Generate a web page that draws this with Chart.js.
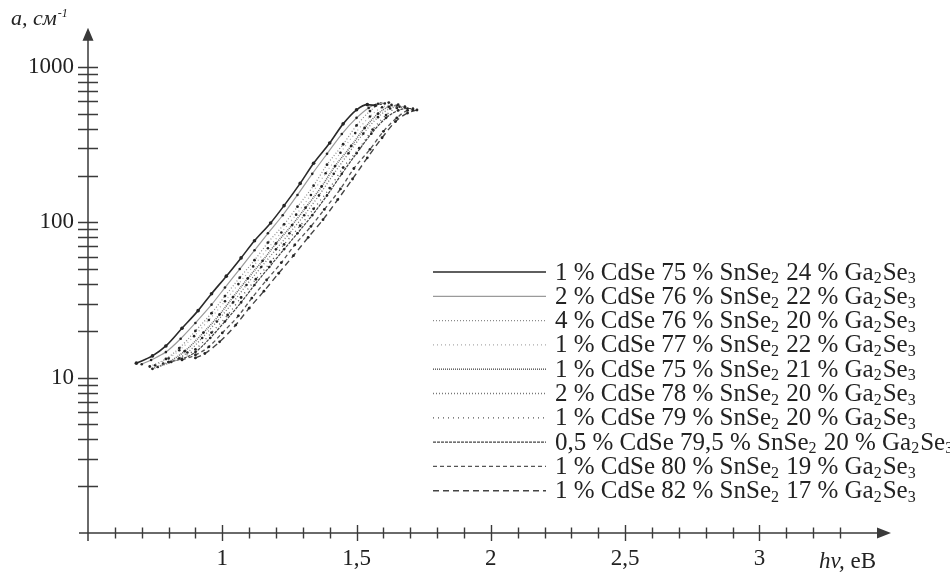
<!DOCTYPE html>
<html>
<head>
<meta charset="utf-8">
<script src="https://cdn.jsdelivr.net/npm/chart.js@4.4.1/dist/chart.umd.min.js"></script>
<style>
  html, body { margin: 0; padding: 0; background: #fff; }
  canvas { display: block; }
</style>
</head>
<body>
<canvas id="absChart" width="950" height="574"></canvas>
<script>
// составы образцов (подписи легенды)
const seriesLabels = [
  '1 % CdSe 75 % SnSe₂ 24 % Ga₂Se₃',
  '2 % CdSe 76 % SnSe₂ 22 % Ga₂Se₃',
  '4 % CdSe 76 % SnSe₂ 20 % Ga₂Se₃',
  '1 % CdSe 77 % SnSe₂ 22 % Ga₂Se₃',
  '1 % CdSe 75 % SnSe₂ 21 % Ga₂Se₃',
  '2 % CdSe 78 % SnSe₂ 20 % Ga₂Se₃',
  '1 % CdSe 79 % SnSe₂ 20 % Ga₂Se₃',
  '0,5 % CdSe 79,5 % SnSe₂ 20 % Ga₂Se₃',
  '1 % CdSe 80 % SnSe₂ 19 % Ga₂Se₃',
  '1 % CdSe 82 % SnSe₂ 17 % Ga₂Se₃'
];

// hv, eB  /  a, cm-1
const hv1 = [0.68, 0.74, 0.79, 0.85, 0.91, 0.96, 1.015, 1.07, 1.12, 1.18, 1.23, 1.29, 1.34, 1.40, 1.45, 1.50, 1.54, 1.57];
const a1  = [12.4, 13.8, 16, 20.8, 27, 34.7, 45, 59, 76, 99, 128, 178, 240, 324, 430, 530, 572, 565];
const hv2 = [0.70, 0.735, 0.79, 0.845, 0.90, 0.96, 1.01, 1.065, 1.12, 1.17, 1.225, 1.28, 1.335, 1.39, 1.445, 1.50, 1.545, 1.58, 1.605];
const a2  = [12.2, 13, 14.6, 17.8, 22.5, 29.5, 38, 50, 66, 85, 111, 150, 205, 276, 370, 470, 545, 580, 582];
const hv3 = [0.73, 0.79, 0.84, 0.90, 0.96, 1.01, 1.065, 1.12, 1.17, 1.23, 1.28, 1.34, 1.39, 1.45, 1.50, 1.55, 1.59, 1.62];
const a3  = [11.8, 13.2, 15.5, 20, 26, 33.5, 44, 57, 74, 97, 126, 172, 235, 318, 420, 520, 580, 590];
const hv4 = [0.75, 0.80, 0.84, 0.895, 0.95, 1.01, 1.06, 1.115, 1.17, 1.22, 1.275, 1.33, 1.385, 1.44, 1.495, 1.55, 1.595, 1.63, 1.655];
const a4  = [12, 13.3, 15, 18.5, 23.5, 31, 40, 52, 68, 86, 112, 150, 207, 280, 375, 480, 550, 570, 572];
const hv5 = [0.74, 0.80, 0.86, 0.93, 0.99, 1.04, 1.095, 1.15, 1.20, 1.26, 1.31, 1.37, 1.42, 1.48, 1.53, 1.58, 1.62, 1.65];
const a5  = [11.4, 12.6, 14.8, 19.5, 25.5, 33, 43.5, 56.5, 73, 96, 124, 170, 230, 310, 405, 500, 555, 565];
const hv6 = [0.76, 0.81, 0.87, 0.925, 0.98, 1.04, 1.09, 1.145, 1.20, 1.25, 1.305, 1.36, 1.415, 1.47, 1.525, 1.58, 1.625, 1.66, 1.68];
const a6  = [11.7, 12.6, 14.5, 18, 23, 30.5, 39.5, 51.5, 67, 85, 111, 149, 205, 278, 372, 475, 540, 555, 556];
const hv7 = [0.78, 0.84, 0.90, 0.96, 1.02, 1.07, 1.125, 1.18, 1.23, 1.29, 1.34, 1.40, 1.45, 1.51, 1.56, 1.61, 1.65, 1.68];
const a7  = [12.3, 13.3, 15.2, 19.5, 25.3, 32.8, 43, 55.5, 72, 95, 122, 166, 225, 300, 395, 490, 545, 550];
const hv8 = [0.80, 0.85, 0.90, 0.955, 1.01, 1.07, 1.12, 1.175, 1.23, 1.28, 1.335, 1.39, 1.445, 1.50, 1.555, 1.61, 1.655, 1.69, 1.71];
const a8  = [12.6, 13.2, 14.6, 18, 23, 30.5, 39.5, 51.5, 67, 85, 111, 149, 205, 278, 372, 470, 525, 540, 540];
const hv9 = [0.85, 0.90, 0.95, 1.00, 1.06, 1.11, 1.165, 1.22, 1.27, 1.33, 1.38, 1.44, 1.49, 1.55, 1.60, 1.65, 1.69, 1.71];
const a9  = [13, 14, 15.8, 19.4, 25, 32.5, 42.5, 55, 71.5, 94, 121, 164, 222, 295, 385, 470, 525, 530];
const hv10 = [0.90, 0.935, 0.99, 1.05, 1.10, 1.155, 1.21, 1.265, 1.32, 1.375, 1.43, 1.485, 1.54, 1.595, 1.645, 1.69, 1.725];
const a10  = [13.4, 14.3, 17, 21.8, 28, 36, 47, 61, 80, 104, 140, 190, 260, 350, 445, 505, 528];

const hvSeries = [hv1, hv2, hv3, hv4, hv5, hv6, hv7, hv8, hv9, hv10];
const aSeries = [a1, a2, a3, a4, a5, a6, a7, a8, a9, a10];

// подписи осей
const xTickValues = [1, 1.5, 2, 2.5, 3];
const xTickLabels = ['1', '1,5', '2', '2,5', '3'];
const xMinorTicks = [0.6, 0.7, 0.8, 0.9, 1.1, 1.2, 1.3, 1.4, 1.6, 1.7, 1.8, 1.9, 2.1, 2.2, 2.3, 2.4, 2.6, 2.7, 2.8, 2.9, 3.1, 3.2, 3.3];
const yTickValues = [10, 100, 1000];
const yTickLabels = ['10', '100', '1000'];
const yMinorTicks = [2, 3, 4, 5, 6, 7, 8, 9, 20, 30, 40, 50, 60, 70, 80, 90, 200, 300, 400, 500, 600, 700, 800, 900];

// стиль линий
const lineStyles = [
  { color: '#2a2a2a', width: 1.6, dash: [], dot: 1.8 },
  { color: '#9a9a9a', width: 1.2, dash: [], dot: 1.3 },
  { color: '#8a8a8a', width: 1.2, dash: [1, 2], dot: 1.4 },
  { color: '#aaaaaa', width: 1.2, dash: [1, 3], dot: 1.3 },
  { color: '#666666', width: 1.6, dash: [1, 1], dot: 1.4 },
  { color: '#777777', width: 1.3, dash: [1, 2], dot: 1.3 },
  { color: '#555555', width: 1.3, dash: [1, 4], dot: 1.4 },
  { color: '#444444', width: 1.2, dash: [3, 1], dot: 1.3 },
  { color: '#555555', width: 1.3, dash: [4, 3], dot: 1.4 },
  { color: '#444444', width: 1.4, dash: [6, 4], dot: 1.4 }
];

const AXIS = '#3a3a3a';
const SERIF = '"Liberation Serif", "DejaVu Serif", serif';

// текст с нижними индексами (SnSe₂, Ga₂Se₃)
function drawSubText(ctx, text, x, y, size) {
  const subs = '₀₁₂₃₄₅₆₇₈₉';
  let cx = x;
  for (const ch of text) {
    const k = subs.indexOf(ch);
    if (k >= 0) {
      ctx.font = Math.round(size * 0.62) + 'px ' + SERIF;
      ctx.fillText(String(k), cx, y + size * 0.24);
      cx += ctx.measureText(String(k)).width + 1;
    } else {
      ctx.font = size + 'px ' + SERIF;
      ctx.fillText(ch, cx, y);
      cx += ctx.measureText(ch).width;
    }
  }
}

const axesPlugin = {
  id: 'axesArrows',
  afterDraw(chart) {
    const ctx = chart.ctx;
    const xs = chart.scales.x, ys = chart.scales.y;
    const ox = xs.getPixelForValue(xs.min);
    const oy = ys.getPixelForValue(ys.min);
    const xEnd = xs.getPixelForValue(xs.max);
    const yEnd = ys.getPixelForValue(ys.max);
    ctx.save();
    ctx.strokeStyle = AXIS;
    ctx.fillStyle = AXIS;
    ctx.lineWidth = 1.5;
    ctx.setLineDash([]);
    // оси
    ctx.beginPath();
    ctx.moveTo(ox, oy + 8); ctx.lineTo(ox, yEnd + 10);
    ctx.moveTo(ox - 9, oy); ctx.lineTo(xEnd - 10, oy);
    ctx.stroke();
    // стрелки
    ctx.beginPath();
    ctx.moveTo(ox, yEnd); ctx.lineTo(ox - 5.5, yEnd + 13); ctx.lineTo(ox + 5.5, yEnd + 13); ctx.closePath();
    ctx.moveTo(xEnd, oy); ctx.lineTo(xEnd - 14, oy - 5.5); ctx.lineTo(xEnd - 14, oy + 5.5); ctx.closePath();
    ctx.fill();
    // деления
    ctx.lineWidth = 1.4;
    ctx.beginPath();
    yTickValues.concat(yMinorTicks).forEach(v => {
      const py = Math.round(ys.getPixelForValue(v)) + 0.5;
      ctx.moveTo(ox - 10, py); ctx.lineTo(ox + 10, py);
    });
    xTickValues.forEach(v => {
      const px = Math.round(xs.getPixelForValue(v)) + 0.5;
      ctx.moveTo(px, oy - 8); ctx.lineTo(px, oy + 8);
    });
    xMinorTicks.forEach(v => {
      const px = Math.round(xs.getPixelForValue(v)) + 0.5;
      ctx.moveTo(px, oy - 5.5); ctx.lineTo(px, oy + 5.5);
    });
    ctx.stroke();

    // подписи осей
    ctx.fillStyle = '#222';
    ctx.textBaseline = 'alphabetic';
    ctx.textAlign = 'left';
    ctx.font = 'italic 22px ' + SERIF;
    ctx.fillText('a, см', 11, 25);
    let w = ctx.measureText('a, см').width;
    ctx.font = 'italic 12px ' + SERIF;
    ctx.fillText('-1', 11 + w + 1, 17);
    ctx.font = 'italic 23px ' + SERIF;
    ctx.fillText('hv,', 819, 568);
    w = ctx.measureText('hv, ').width;
    ctx.font = '23px ' + SERIF;
    ctx.fillText('eB', 819 + w, 568);

    // легенда
    chart.data.datasets.forEach((ds, i) => {
      const ry = 272 + i * 24.3;
      ctx.strokeStyle = ds.borderColor;
      ctx.lineWidth = ds.borderWidth;
      ctx.setLineDash(ds.borderDash);
      ctx.beginPath();
      ctx.moveTo(433, ry); ctx.lineTo(546, ry);
      ctx.stroke();
      ctx.setLineDash([]);
      ctx.fillStyle = '#222';
      ctx.textBaseline = 'middle';
      drawSubText(ctx, ds.label, 555, ry + 1, 25);
    });
    ctx.restore();
  }
};

const datasets = seriesLabels.map((label, i) => ({
  label: label,
  data: hvSeries[i].map((hv, j) => ({ x: hv, y: aSeries[i][j] })),
  borderColor: lineStyles[i].color,
  borderWidth: lineStyles[i].width,
  borderDash: lineStyles[i].dash,
  pointRadius: lineStyles[i].dot,
  pointBackgroundColor: '#262626',
  pointBorderWidth: 0,
  cubicInterpolationMode: 'monotone',
  fill: false
}));

new Chart(document.getElementById('absChart').getContext('2d'), {
  type: 'line',
  data: { datasets: datasets },
  options: {
    responsive: false,
    animation: false,
    layout: { padding: { top: 16, right: 59, left: 0, bottom: 0 } },
    plugins: { legend: { display: false }, tooltip: { enabled: false } },
    scales: {
      x: {
        type: 'linear',
        min: 0.5,
        max: 3.49,
        afterFit: s => { s.height = 41; },
        afterBuildTicks: s => { s.ticks = xTickValues.map(v => ({ value: v })); },
        grid: { display: false, drawTicks: false },
        border: { display: false },
        ticks: {
          padding: 12,
          maxRotation: 0,
          autoSkip: false,
          color: '#222',
          font: { family: SERIF, size: 23 },
          callback: v => xTickLabels[xTickValues.indexOf(v)]
        }
      },
      y: {
        type: 'logarithmic',
        min: 1,
        max: 1786,
        afterFit: s => { s.width = 88; },
        afterBuildTicks: s => { s.ticks = yTickValues.map(v => ({ value: v })); },
        grid: { display: false, drawTicks: false },
        border: { display: false },
        ticks: {
          padding: 14,
          autoSkip: false,
          color: '#222',
          font: { family: SERIF, size: 23 },
          callback: v => yTickLabels[yTickValues.indexOf(v)]
        }
      }
    }
  },
  plugins: [axesPlugin]
});
</script>
</body>
</html>
